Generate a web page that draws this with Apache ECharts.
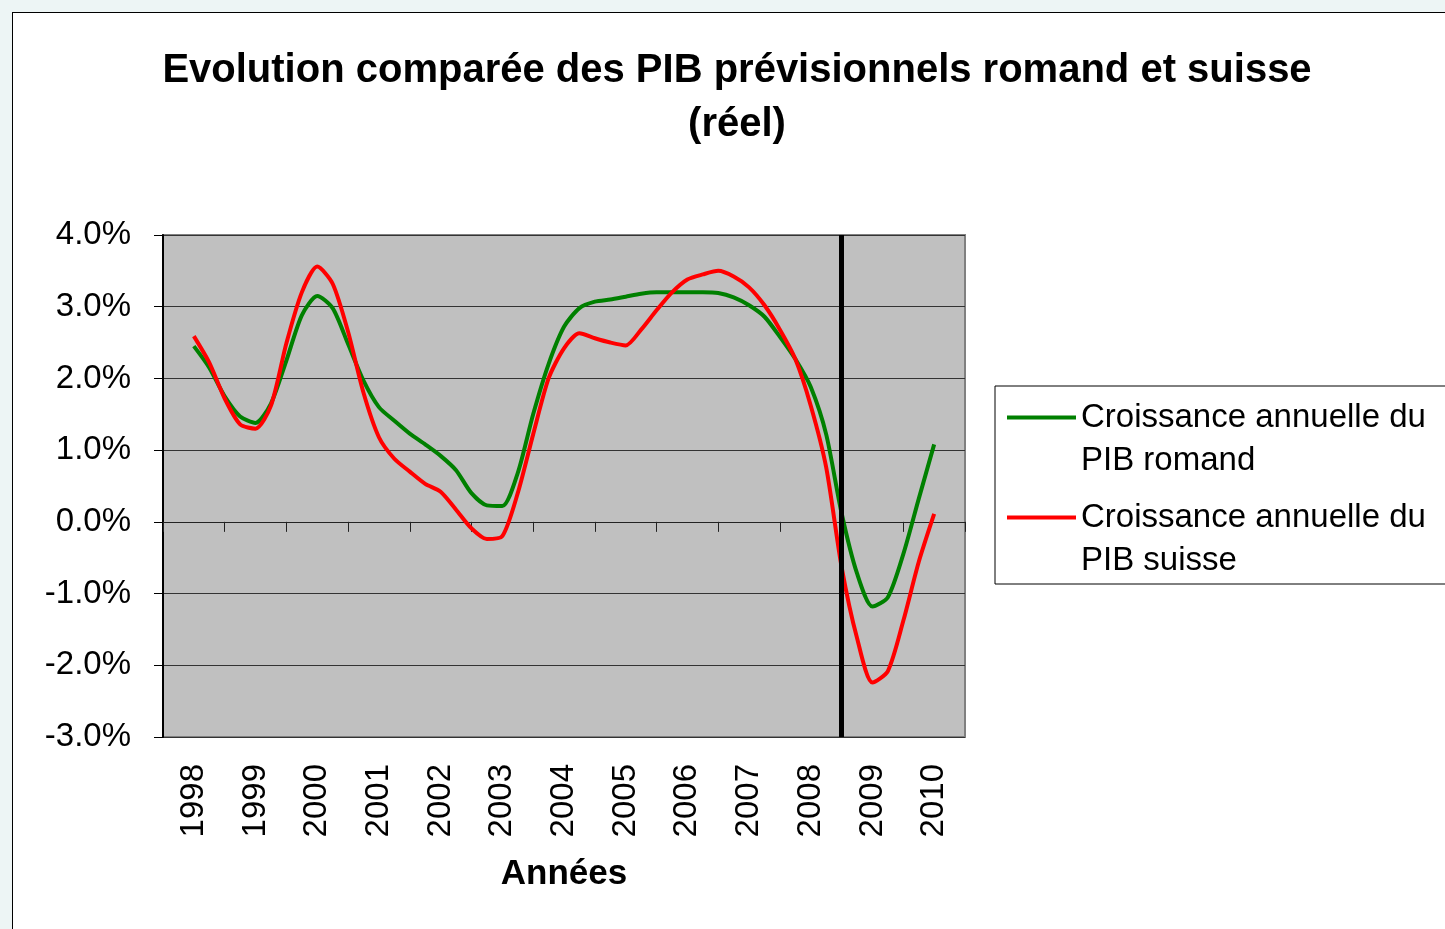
<!DOCTYPE html>
<html>
<head>
<meta charset="utf-8">
<script src="https://cdn.jsdelivr.net/npm/echarts@6/dist/echarts.min.js"></script>
<style>
  body { margin: 0; background: #edf5f5; overflow: hidden; }
  #frame { position: absolute; left: 12px; top: 12px; width: 1460px; height: 940px; background: #fff; border: 1px solid #000; }
  #chart { position: absolute; left: 0; top: 0; width: 1445px; height: 929px; }
</style>
</head>
<body>
<div id="frame"></div>
<div id="chart"></div>
<script>
// années affichées sous l'axe
let years = [1998, 1999, 2000, 2001, 2002, 2003, 2004, 2005, 2006, 2007, 2008, 2009, 2010];
// points trimestriels 1998.00 -> 2010.00
let periods = [];
for (let i = 0; i <= 48; i++) periods.push(1998 + i / 4);

// croissance annuelle (%)
let pibRomand = [
  2.45, 2.15, 1.75, 1.47, 1.38, 1.65, 2.25, 2.88,
  3.15, 2.98, 2.48, 1.97, 1.60, 1.41, 1.23, 1.08,
  0.92, 0.72, 0.40, 0.23, 0.22, 0.68, 1.50, 2.20,
  2.72, 2.98, 3.07, 3.10, 3.14, 3.18, 3.20, 3.20,
  3.20, 3.20, 3.19, 3.13, 3.02, 2.86, 2.58, 2.27,
  1.88, 1.22, 0.12, -0.72, -1.18, -1.05, -0.45, 0.32,
  1.08
];
let pibSuisse = [
  2.59, 2.22, 1.72, 1.36, 1.30, 1.62, 2.49, 3.20,
  3.56, 3.32, 2.65, 1.80, 1.18, 0.88, 0.70, 0.53,
  0.42, 0.17, -0.09, -0.24, -0.20, 0.40, 1.22, 2.00,
  2.42, 2.63, 2.56, 2.50, 2.46, 2.68, 2.95, 3.20,
  3.38, 3.45, 3.50, 3.42, 3.27, 3.02, 2.68, 2.27,
  1.62, 0.76, -0.63, -1.62, -2.24, -2.08, -1.38, -0.56,
  0.11
];
let forecastStart = 2008.5;

let tickPos = years.map(function (y) { return y - 0.5; }).concat([2010.5]);
let fnt = "'Liberation Sans', Arial, sans-serif";

function pairs(vals) {
  return vals.map(function (v, i) { return [periods[i], v]; });
}

let option = {
  animation: false,
  backgroundColor: 'transparent',
  textStyle: { fontFamily: fnt, color: '#000' },
  title: {
    text: 'Evolution comparée des PIB prévisionnels romand et suisse\n(réel)',
    left: 737,
    textAlign: 'center',
    top: 44,
    padding: 0,
    textStyle: { fontFamily: fnt, fontSize: 40, fontWeight: 'bold', lineHeight: 54, color: '#000' }
  },
  graphic: [{
    type: 'rect',
    z: 0,
    shape: { x: 995, y: 386, width: 480, height: 198 },
    style: { fill: '#fff', stroke: '#000', lineWidth: 1 }
  }],
  legend: {
    orient: 'vertical',
    left: 1007,
    top: 353,
    padding: 0,
    itemGap: -29,
    itemWidth: 69,
    itemHeight: 4,
    icon: 'rect',
    textStyle: { fontFamily: fnt, fontSize: 33, lineHeight: 43, color: '#000' },
    formatter: function (name) { return '\n' + name; },
    data: ['Croissance annuelle du\nPIB romand', 'Croissance annuelle du\nPIB suisse']
  },
  grid: {
    left: 163, top: 235, width: 802, height: 502,
    show: true,
    backgroundColor: '#c0c0c0',
    borderColor: '#808080',
    borderWidth: 2
  },
  xAxis: [{
    type: 'value',
    min: 1997.5, max: 2010.5,
    position: 'bottom',
    axisLine: { show: false, onZero: false },
    axisTick: { show: false },
    splitLine: { show: false },
    axisLabel: {
      customValues: years,
      rotate: 90,
      margin: 27,
      fontSize: 33,
      color: '#000',
      fontFamily: fnt,
      formatter: function (v) { return String(v); }
    },
    name: 'Années',
    nameLocation: 'middle',
    nameGap: 120,
    nameTextStyle: { fontFamily: fnt, fontSize: 35, fontWeight: 'bold', color: '#000' }
  }, {
    type: 'value',
    min: 1997.5, max: 2010.5,
    position: 'top',
    axisLine: { show: true, onZero: true, lineStyle: { color: '#222', width: 1 } },
    axisTick: { show: true, inside: true, length: 10, customValues: tickPos, lineStyle: { color: '#222', width: 1 } },
    axisLabel: { show: false },
    splitLine: { show: false }
  }],
  yAxis: {
    type: 'value',
    min: -3, max: 4, interval: 1,
    axisLine: { show: true, lineStyle: { color: '#000', width: 2 } },
    axisTick: { show: true, length: 9, lineStyle: { color: '#000', width: 1 } },
    splitLine: { show: true, lineStyle: { color: '#333', width: 1 } },
    axisLabel: {
      margin: 32,
      fontSize: 33,
      color: '#000',
      fontFamily: fnt,
      formatter: function (v) { return v.toFixed(1) + '%'; }
    }
  },
  series: [{
    name: 'Croissance annuelle du\nPIB romand',
    type: 'line',
    color: '#008000',
    data: pairs(pibRomand),
    smooth: 0.25,
    showSymbol: false,
    lineStyle: { width: 4, color: '#008000' }
  }, {
    name: 'Croissance annuelle du\nPIB suisse',
    type: 'line',
    color: '#ff0000',
    data: pairs(pibSuisse),
    smooth: 0.25,
    showSymbol: false,
    lineStyle: { width: 4, color: '#ff0000' },
    markLine: {
      silent: true,
      symbol: 'none',
      label: { show: false },
      lineStyle: { color: '#000', width: 5, type: 'solid' },
      data: [{ xAxis: forecastStart }]
    }
  }]
};

let myChart = echarts.init(document.getElementById('chart'));
myChart.setOption(option);

window.addEventListener('resize', function () {
  myChart.resize();
});
</script>
</body>
</html>
